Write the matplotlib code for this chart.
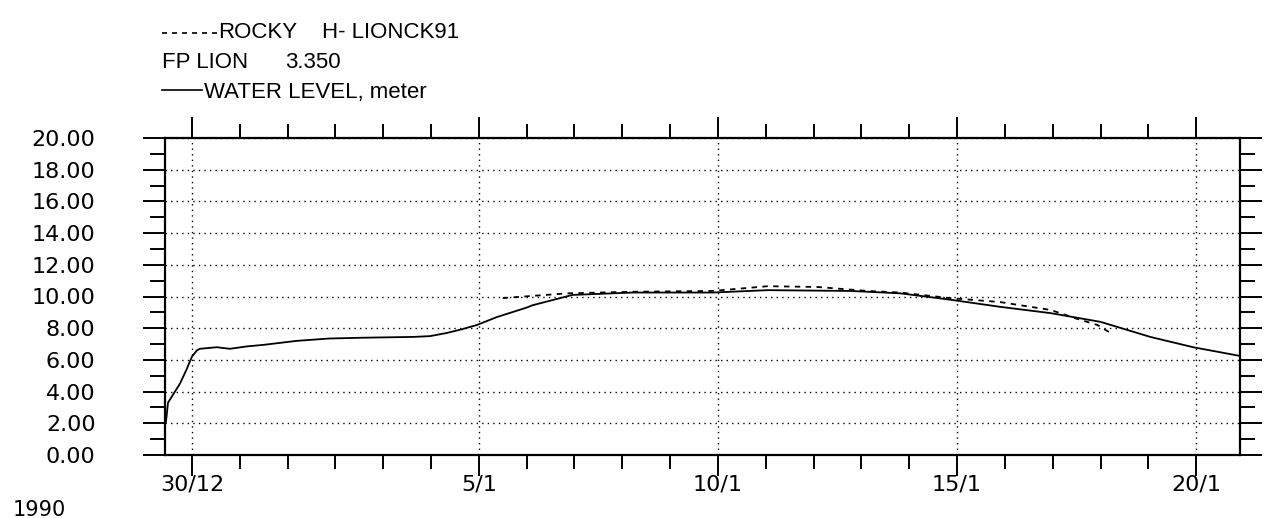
import matplotlib
matplotlib.use("Agg")
import pandas as pd
import matplotlib.pyplot as plt
import matplotlib.dates as mdates
from matplotlib.lines import Line2D
from matplotlib.ticker import MultipleLocator, FuncFormatter

# water level, meter (solid line)
level_time = ["1989-12-29 11:00", "1989-12-29 12:00", "1989-12-29 14:00", "1989-12-29 18:00",
              "1989-12-29 21:20", "1989-12-30 00:00", "1989-12-30 02:30", "1989-12-30 04:00",
              "1989-12-30 12:30", "1989-12-30 19:00", "1989-12-31 03:30", "1989-12-31 12:00",
              "1990-01-01 04:30", "1990-01-01 21:00", "1990-01-02 14:00", "1990-01-03 15:00",
              "1990-01-03 23:30", "1990-01-04 08:00", "1990-01-04 16:00", "1990-01-04 23:00",
              "1990-01-05 09:00", "1990-01-06 00:00", "1990-01-06 03:00", "1990-01-06 23:00",
              "1990-01-08 05:30", "1990-01-09 21:30", "1990-01-11 01:00", "1990-01-12 18:30",
              "1990-01-13 03:00", "1990-01-13 19:30", "1990-01-14 20:30", "1990-01-15 21:30",
              "1990-01-16 23:00", "1990-01-18 00:00", "1990-01-19 01:00", "1990-01-19 22:30",
              "1990-01-20 22:00"]
level_m = [2.1, 3.3, 3.7, 4.5, 5.4, 6.2, 6.6, 6.7, 6.8, 6.7, 6.85, 6.95,
           7.2, 7.35, 7.4, 7.45, 7.5, 7.7, 7.95, 8.2, 8.7, 9.3, 9.45, 10.1,
           10.25, 10.25, 10.4, 10.35, 10.3, 10.2, 9.8, 9.35, 8.95, 8.4, 7.45, 6.8,
           6.25]

# ROCKY H-LIONCK91 (dashed line)
rocky_time = ["1990-01-05 12:00", "1990-01-06 20:30", "1990-01-08 05:30", "1990-01-09 21:30",
              "1990-01-11 01:00", "1990-01-12 02:00", "1990-01-13 03:00", "1990-01-13 19:30",
              "1990-01-14 20:30", "1990-01-15 21:30", "1990-01-16 23:00", "1990-01-17 12:00",
              "1990-01-17 22:30", "1990-01-18 05:00"]
rocky_m = [9.9, 10.2, 10.3, 10.35, 10.65, 10.6, 10.35, 10.25, 9.9, 9.65, 9.15, 8.6,
           8.2, 7.7]

x_start = "1989-12-29 10:30"
x_end = "1990-01-20 22:00"

plt.rcParams['font.family'] = ['Liberation Sans', 'DejaVu Sans']

W, H = 1271, 518
fig = plt.figure(figsize=(W / 100, H / 100), dpi=100)
ax = fig.add_axes([165 / W, 1 - 455 / H, (1240 - 165) / W, (455 - 138) / H])

ax.plot(pd.to_datetime(level_time), level_m, color='black', lw=1.3)
ax.plot(pd.to_datetime(rocky_time), rocky_m, color='black', lw=1.3, linestyle=(0, (3, 3)))

ax.set_xlim(pd.Timestamp(x_start), pd.Timestamp(x_end))
ax.set_ylim(0, 20)

ax.xaxis.set_major_locator(mdates.DayLocator(bymonthday=[5, 10, 15, 20, 30]))
ax.xaxis.set_minor_locator(mdates.DayLocator())
ax.xaxis.set_major_formatter(FuncFormatter(
    lambda v, p: f"{mdates.num2date(v).day}/{mdates.num2date(v).month}"))
ax.yaxis.set_major_locator(MultipleLocator(2))
ax.yaxis.set_minor_locator(MultipleLocator(1))
ax.yaxis.set_major_formatter(FuncFormatter(lambda v, p: f"{v:.2f}"))

ax.grid(True, which='major', color='black', linestyle=(0, (1, 3)), lw=1.0)

for s in ax.spines.values():
    s.set_linewidth(1.6)

ax.tick_params(axis='x', which='major', direction='out', top=True, bottom=True,
               length=15, width=1.4, labelsize=16, pad=-1)
ax.tick_params(axis='x', which='minor', direction='out', top=True, bottom=True,
               length=10, width=1.4)
ax.tick_params(axis='y', which='major', direction='out', left=True, right=True,
               length=16, width=1.4, labelsize=16, pad=34)
ax.tick_params(axis='y', which='minor', direction='out', left=True, right=True,
               length=11, width=1.4)
for lab in ax.get_xticklabels() + ax.get_yticklabels():
    lab.set_family('DejaVu Sans')

# header legend
fig.add_artist(Line2D([162 / W, 217 / W], [1 - 33 / H] * 2, transform=fig.transFigure,
                      color='black', lw=1.2, linestyle=(0, (3, 3))))
fig.text(218 / W, 1 - 38 / H, "ROCKY", fontsize=16, va='baseline')
fig.text(322 / W, 1 - 38 / H, "H- LIONCK91", fontsize=16, va='baseline')
fig.text(162 / W, 1 - 68 / H, "FP LION", fontsize=16, va='baseline')
fig.text(285 / W, 1 - 68 / H, "3.350", fontsize=16, va='baseline')
fig.add_artist(Line2D([162 / W, 202 / W], [1 - 90 / H] * 2, transform=fig.transFigure,
                      color='black', lw=1.2))
fig.text(204 / W, 1 - 98 / H, "WATER LEVEL, meter", fontsize=16, va='baseline')

# year label at the bottom left corner
fig.text(13 / W, 1 - 516 / H, "1990", fontsize=15, va='baseline', family='DejaVu Sans')

fig.savefig("out.png", dpi=100)
